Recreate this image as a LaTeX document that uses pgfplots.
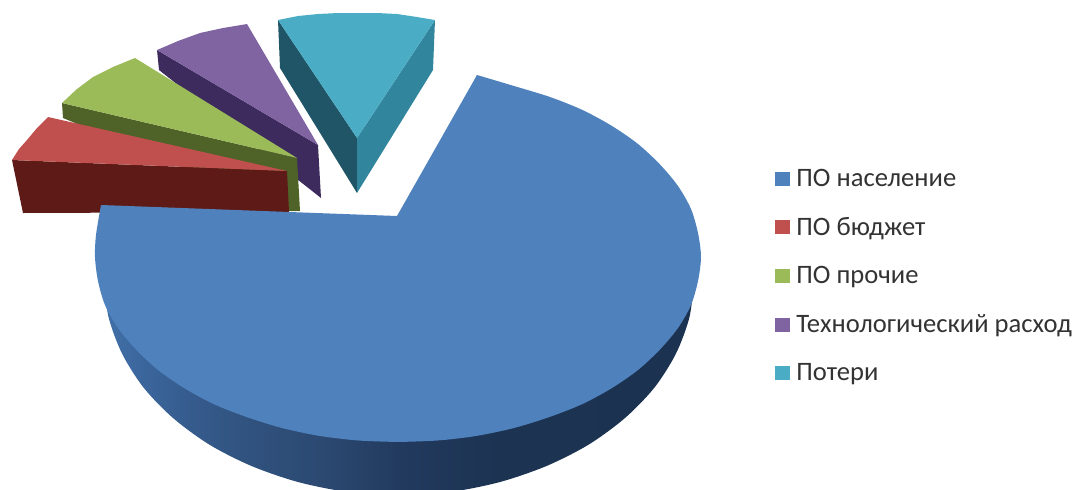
\documentclass[border=0pt]{standalone}
\usepackage{fontspec}
\setmainfont{Carlito}
\usepackage{pgfplots}
\pgfplotsset{compat=1.18}
\definecolor{cmain}{HTML}{4F81BD}
\definecolor{cred}{HTML}{C0504D}
\definecolor{cgreen}{HTML}{9BBB59}
\definecolor{cpurple}{HTML}{8064A2}
\definecolor{cteal}{HTML}{4BACC6}
\definecolor{credd}{HTML}{5E1A17}
\definecolor{cgreend}{HTML}{4F6228}
\definecolor{cpurpled}{HTML}{3D2B5E}
\definecolor{ctealdl}{HTML}{1F5566}
\definecolor{ctealdr}{HTML}{31859C}
\definecolor{s0}{HTML}{4170A8}
\definecolor{s1}{HTML}{3A659B}
\definecolor{s2}{HTML}{355A8B}
\definecolor{s3}{HTML}{30527E}
\definecolor{s4}{HTML}{2B4870}
\definecolor{s5}{HTML}{223A5E}
\definecolor{s6}{HTML}{1C3352}
\definecolor{s7}{HTML}{1B3250}
\pgfdeclarehorizontalshading{sideshade}{100bp}{color(0bp)=(s0); color(25bp)=(s0); color(28.6bp)=(s1); color(32.9bp)=(s2); color(37.4bp)=(s3); color(44bp)=(s4); color(50bp)=(s5); color(58.4bp)=(s6); color(75bp)=(s7); color(100bp)=(s7)}
\begin{document}
\begin{tikzpicture}
\useasboundingbox (0,0) rectangle (1082pt,490pt);
\begin{axis}[
  at={(0,0)}, anchor=south west,
  scale only axis, width=1082pt, height=490pt,
  xmin=0, xmax=1082, ymin=0, ymax=490, y dir=reverse,
  hide axis, no markers,
  legend cell align=left,
  legend style={at={(axis cs:775,169)}, anchor=north west, draw=none, fill=none,
    font=\fontsize{26.6}{27.6}\selectfont\color{black!80}, row sep=29.5pt,
    inner sep=0pt, outer sep=0pt, nodes={inner sep=0pt}},
  legend image code/.code={\fill[#1] (0pt,-6.5pt) rectangle (13.5pt,6.5pt); \path (21pt,0pt);},
]
% legend entries
\addlegendimage{cmain}\addlegendentry{ПО население}
\addlegendimage{cred}\addlegendentry{ПО бюджет}
\addlegendimage{cgreen}\addlegendentry{ПО прочие}
\addlegendimage{cpurple}\addlegendentry{Технологический расход}
\addlegendimage{cteal}\addlegendentry{Потери}
% teal slice
\addplot[forget plot, fill=ctealdl, draw=none] coordinates {(278,20) (357,138) (357,193) (280,68)};
\addplot[forget plot, fill=ctealdr, draw=none] coordinates {(435,20) (357,138) (357,193) (433,70)};
\addplot[forget plot, fill=cteal, draw=none] coordinates {(278,20) (298,16) (318,14) (338,13) (357,13) (377,13) (397,14) (417,17) (435,20) (357,138)};
% purple slice
\addplot[forget plot, fill=cpurpled, draw=none] coordinates {(157,50) (318,145) (321,198) (159,70)};
\addplot[forget plot, fill=cpurple, draw=none] coordinates {(157,50) (178,41) (200,33) (223,28) (247,24) (318,145)};
% green slice
\addplot[forget plot, fill=cgreend, draw=none] coordinates {(62,103) (297,158) (300,211) (287,211) (63,118)};
\addplot[forget plot, fill=cgreen, draw=none] coordinates {(62,103) (77,89) (93,77) (113,67) (135,58) (297,158)};
% red slice
\addplot[forget plot, fill=credd, draw=none] coordinates {(12,160) (287,171) (289,212) (23,213)};
\addplot[forget plot, fill=cred, draw=none] coordinates {(12,160) (19,149) (27,140) (37,128) (48,117) (287,171)};
% main slice: side wall
\addplot[forget plot, shading=sideshade, draw=none, smooth] coordinates {
 (694,280) (689.5,317) (676,353.5) (654.5,387.5) (625,418) (588.5,444.7) (546.5,466) (500,482)
 (450,492) (399,495) (348,492) (298,482) (251.5,466) (209.5,444.7) (173,418) (143.5,387.5)
 (122,353.5) (108.5,317) (104,280)};
% main slice: top, right arc
\addplot[forget plot, fill=cmain, draw=none, smooth] coordinates {
 (477,75) (514,86) (550,97) (582.5,110) (612,126) (638,144) (660,164.5) (678,186)
 (691,209) (698,233) (701,257) (698,281) (691,305) (678,328) (660,349.5) (638,370) (612,388)
 (582.5,404) (549.5,417) (514,428) (476,436) (437.5,440.5) (398,442)};
% main slice: top, left arc
\addplot[forget plot, fill=cmain, draw=none, smooth] coordinates {
 (398,442) (358.5,440.5) (320,436)
 (282,428) (246.5,417) (213.5,404) (184,388) (158,370) (136,349.5) (118,328) (105,305)
 (98,281) (95,257) (96,235) (101,205)};
% main slice: top, centre
\addplot[forget plot, fill=cmain, draw=none] coordinates {
 (397,216) (477,75) (520,200) (520,300) (398,442) (280,370) (101,205)};
\end{axis}
\end{tikzpicture}
\end{document}
